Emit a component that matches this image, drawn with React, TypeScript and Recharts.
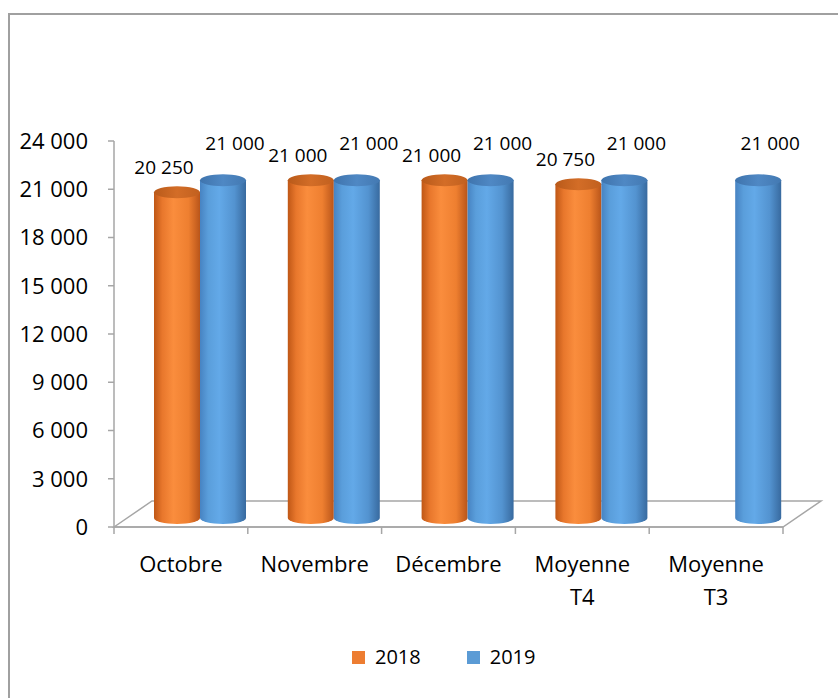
import { BarChart, Bar, XAxis, YAxis, ReferenceLine, LabelList } from "recharts"

const categories = ["Octobre", "Novembre", "Décembre", "Moyenne T4", "Moyenne T3"]
const values2018: (number | null)[] = [20250, 21000, 21000, 20750, null]
const values2019: (number | null)[] = [21000, 21000, 21000, 21000, 21000]
const yTicks = [0, 3000, 6000, 9000, 12000, 15000, 18000, 21000, 24000]
const seriesNames = ["2018", "2019"]

const data = categories.map((name, i) => ({
  name,
  y2018: values2018[i],
  y2019: values2019[i],
}))

const FONT = "'Open Sans', sans-serif"
const AXIS = "#a6a6a6"
const ORANGE = "#ed7d31"
const BLUE = "#5b9bd5"

// fake 3D depth
const DX = 19
const DY = 9
const CAP = 6

const fmt = (v: number) => String(v).replace(/\B(?=(\d{3})+(?!\d))/g, " ")

const makeCylinder = (id: string) => (props: any) => {
  const { x, y, width, height, value } = props
  if (value == null || !height) return null
  const x0 = x + DX
  const x1 = x0 + width
  const top = y - DY
  const bottom = y + height - DY
  const rx = width / 2
  const body = `M${x0},${top} L${x0},${bottom} A${rx},${CAP} 0 0 0 ${x1},${bottom} L${x1},${top} Z`
  return (
    <g>
      <path d={body} fill={`url(#body-${id})`} />
      <ellipse cx={x0 + rx} cy={top} rx={rx} ry={CAP} fill={`url(#top-${id})`} />
    </g>
  )
}

const makeLabel = (dx: number, dy: number) => (props: any) => {
  const { x, y, width, value } = props
  if (value == null) return null
  return (
    <text
      x={x + width / 2 + DX + dx}
      y={y - DY + dy}
      dy="0.35em"
      textAnchor="middle"
      fontFamily={FONT}
      fontSize={19}
      fill="#000"
    >
      {fmt(value)}
    </text>
  )
}

const Floor = (props: any) => {
  const { x1, y1, x2, y2 } = props
  if (x1 == null) return null
  const pts = `${x1},${y1} ${x1 + 38},${y1 - 26} ${x2 + 38},${y2 - 26} ${x2},${y2}`
  return <polygon points={pts} fill="none" stroke={AXIS} strokeWidth={1.5} />
}

const CategoryTick = (props: any) => {
  const { x, y, payload, index, visibleTicksCount } = props
  const half = payload?.offset || 66.9
  const last = index === (visibleTicksCount ?? categories.length) - 1
  const words = String(payload.value).split(" ")
  const lines = words.length > 1 ? [words.slice(0, -1).join(" "), words[words.length - 1]] : words
  return (
    <g>
      <line x1={x - half} y1={y} x2={x - half} y2={y + 7} stroke={AXIS} strokeWidth={1.5} />
      {last && <line x1={x + half} y1={y} x2={x + half} y2={y + 7} stroke={AXIS} strokeWidth={1.5} />}
      <text x={x} y={y + 45} textAnchor="middle" fontFamily={FONT} fontSize={22} fill="#000">
        {lines.map((l, i) => (
          <tspan key={i} x={x} dy={i === 0 ? 0 : 33}>
            {l}
          </tspan>
        ))}
      </text>
    </g>
  )
}

export default function App() {
  return (
    <div style={{ position: "absolute", left: 0, top: 0, width: 838, height: 698, background: "#fff", overflow: "hidden" }}>
      <div
        style={{
          position: "absolute",
          left: 8,
          top: 13,
          width: 840,
          height: 700,
          borderTop: "2px solid #a0a0a0",
          borderLeft: "2px solid #a0a0a0",
        }}
      />
      <div style={{ position: "absolute", left: 0, top: 0 }}>
        <BarChart
          width={838}
          height={698}
          data={data}
          margin={{ top: 141, right: 55, left: 0, bottom: 0 }}
          barGap={0}
          barSize={46}
        >
          <defs>
            <linearGradient id="body-o" x1="0" y1="0" x2="1" y2="0">
              <stop offset="0%" stopColor="#bf5716" />
              <stop offset="18%" stopColor="#e8772c" />
              <stop offset="42%" stopColor="#fa8d3d" />
              <stop offset="75%" stopColor="#ee7f30" />
              <stop offset="100%" stopColor="#b9551a" />
            </linearGradient>
            <linearGradient id="top-o" x1="0" y1="0" x2="1" y2="0">
              <stop offset="0%" stopColor="#b95a1a" />
              <stop offset="50%" stopColor="#d36d27" />
              <stop offset="100%" stopColor="#c1601f" />
            </linearGradient>
            <linearGradient id="body-b" x1="0" y1="0" x2="1" y2="0">
              <stop offset="0%" stopColor="#4783c2" />
              <stop offset="18%" stopColor="#5a9edb" />
              <stop offset="42%" stopColor="#63a9e8" />
              <stop offset="75%" stopColor="#5393d0" />
              <stop offset="100%" stopColor="#386a9f" />
            </linearGradient>
            <linearGradient id="top-b" x1="0" y1="0" x2="1" y2="0">
              <stop offset="0%" stopColor="#3f74ad" />
              <stop offset="50%" stopColor="#4f88c4" />
              <stop offset="100%" stopColor="#4379b2" />
            </linearGradient>
          </defs>
          <ReferenceLine y={0} shape={Floor} zIndex={-10} />
          <XAxis
            dataKey="name"
            height={171}
            axisLine={{ stroke: AXIS, strokeWidth: 1.5 }}
            tickLine={false}
            tickSize={0}
            tickMargin={0}
            interval={0}
            tick={CategoryTick}
          />
          <YAxis
            width={114}
            domain={[0, 24000]}
            ticks={yTicks}
            interval={0}
            axisLine={{ stroke: AXIS, strokeWidth: 1.5 }}
            tickLine={{ stroke: AXIS, strokeWidth: 1.5 }}
            tickSize={6}
            tickMargin={20}
            tickFormatter={fmt}
            tick={{ fontFamily: FONT, fontSize: 22, fill: "#000" }}
          />
          <Bar dataKey="y2018" name={seriesNames[0]} fill={ORANGE} shape={makeCylinder("o")} isAnimationActive={false}>
            <LabelList dataKey="y2018" content={makeLabel(-13, -25)} />
          </Bar>
          <Bar dataKey="y2019" name={seriesNames[1]} fill={BLUE} shape={makeCylinder("b")} isAnimationActive={false}>
            <LabelList dataKey="y2019" content={makeLabel(12, -37)} />
          </Bar>
        </BarChart>
      </div>
      <div
        style={{
          position: "absolute",
          left: 352,
          top: 644,
          display: "flex",
          alignItems: "center",
          fontFamily: FONT,
          fontSize: 20,
          color: "#000",
          lineHeight: "26px",
        }}
      >
        {seriesNames.map((n, i) => (
          <div key={n} style={{ display: "flex", alignItems: "center", marginRight: 46 }}>
            <span style={{ width: 13, height: 13, background: i === 0 ? ORANGE : BLUE, marginRight: 10 }} />
            <span>{n}</span>
          </div>
        ))}
      </div>
    </div>
  )
}
